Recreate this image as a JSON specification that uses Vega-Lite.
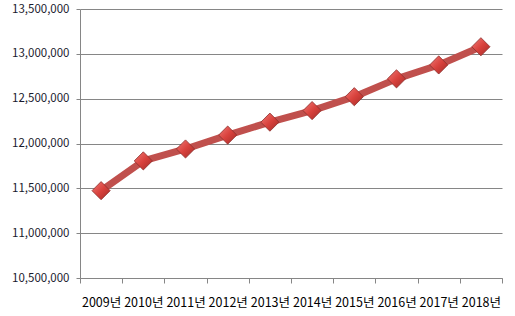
{
  "$schema": "https://vega.github.io/schema/vega-lite/v6.json",
  "autosize": "none",
  "width": 422,
  "height": 269,
  "padding": {"left": 80, "top": 9, "right": 13, "bottom": 38},
  "background": "white",
  "config": {
    "view": {"stroke": null},
    "font": "Noto Sans CJK KR"
  },
  "data": {
    "values": [
      {"year": "2009년", "value": 11474000},
      {"year": "2010년", "value": 11806000},
      {"year": "2011년", "value": 11939000},
      {"year": "2012년", "value": 12094000},
      {"year": "2013년", "value": 12238000},
      {"year": "2014년", "value": 12367000},
      {"year": "2015년", "value": 12522000},
      {"year": "2016년", "value": 12721000},
      {"year": "2017년", "value": 12876000},
      {"year": "2018년", "value": 13079000}
    ]
  },
  "encoding": {
    "x": {
      "field": "year",
      "type": "ordinal",
      "sort": null,
      "scale": {"paddingInner": 0, "paddingOuter": 0},
      "axis": {
        "title": null,
        "labelAngle": 0,
        "tickBand": "extent",
        "domainColor": "#868686",
        "tickColor": "#868686",
        "tickSize": 5,
        "labelPadding": 13,
        "labelFontSize": 12.5,
        "labelColor": "#000000",
        "grid": false
      }
    },
    "y": {
      "field": "value",
      "type": "quantitative",
      "scale": {"domain": [10500000, 13500000], "nice": false, "zero": false},
      "axis": {
        "title": null,
        "values": [10500000, 11000000, 11500000, 12000000, 12500000, 13000000, 13500000],
        "format": ",d",
        "domainColor": "#868686",
        "tickColor": "#868686",
        "tickSize": 4,
        "labelPadding": 7,
        "labelFontSize": 11.5,
        "labelColor": "#1a1a2e",
        "labelFlush": false,
        "gridColor": "#868686",
        "gridWidth": 1
      }
    }
  },
  "layer": [
    {
      "mark": {"type": "line", "color": "#c0504d", "strokeWidth": 7, "strokeCap": "butt", "strokeJoin": "round"}
    },
    {
      "mark": {
        "type": "point",
        "shape": "diamond",
        "size": 330,
        "filled": true,
        "opacity": 1,
        "stroke": "#8c2f2c",
        "strokeWidth": 0.8,
        "fill": {
          "gradient": "linear",
          "x1": 0, "y1": 0, "x2": 1, "y2": 1,
          "stops": [
            {"offset": 0, "color": "#f07a76"},
            {"offset": 0.5, "color": "#d9423d"},
            {"offset": 1, "color": "#a32b27"}
          ]
        }
      }
    }
  ]
}
